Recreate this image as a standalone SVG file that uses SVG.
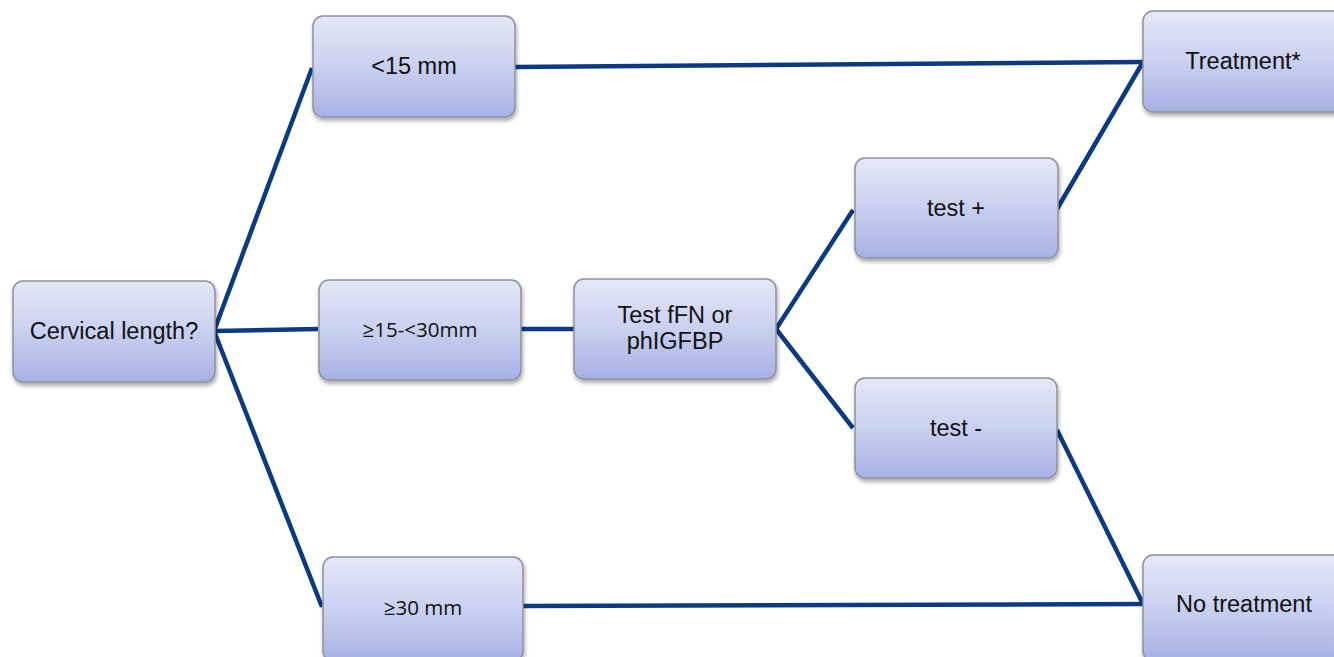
<svg xmlns="http://www.w3.org/2000/svg" width="1334" height="657" viewBox="0 0 1334 657">
  <defs>
    <linearGradient id="boxFill" x1="0" y1="0" x2="0" y2="1">
      <stop offset="0" stop-color="#e5e8f7"/>
      <stop offset="0.5" stop-color="#cad0f0"/>
      <stop offset="1" stop-color="#a7b1e5"/>
    </linearGradient>
    <filter id="shadow" x="-10%" y="-10%" width="125%" height="130%">
      <feGaussianBlur in="SourceAlpha" stdDeviation="2"/>
      <feOffset dx="1" dy="3" result="off"/>
      <feComponentTransfer><feFuncA type="linear" slope="0.35"/></feComponentTransfer>
      <feMerge><feMergeNode/><feMergeNode in="SourceGraphic"/></feMerge>
    </filter>
  </defs>
  <style>
    .box { fill: url(#boxFill); stroke: #8d929c; stroke-width: 1.5; filter: url(#shadow); }
    .lbl { font-family: "Liberation Sans", Arial, sans-serif; font-size: 23.5px; fill: #111; text-anchor: middle; dominant-baseline: central; }
    .lbl2 { font-family: "Open Sans", "Liberation Sans", sans-serif; font-size: 20.5px; fill: #111; text-anchor: middle; dominant-baseline: central; }
    .conn { stroke: #0b3a82; stroke-width: 4.5; fill: none; stroke-linecap: butt; stroke-linejoin: round; }
  </style>
  <rect width="1334" height="657" fill="#ffffff"/>

  <g id="connectors">
    <line class="conn" x1="214" y1="331" x2="312" y2="68"/>
    <line class="conn" x1="214" y1="331" x2="318" y2="329"/>
    <line class="conn" x1="214" y1="331" x2="322" y2="607"/>
    <line class="conn" x1="521" y1="329" x2="574" y2="329"/>
    <polyline class="conn" points="853,210 776,329 853,428"/>
    <line class="conn" x1="515" y1="67" x2="1143" y2="62"/>
    <line class="conn" x1="1057" y1="209" x2="1143" y2="62"/>
    <line class="conn" x1="1057" y1="430" x2="1143" y2="604"/>
    <line class="conn" x1="523" y1="606" x2="1143" y2="604"/>
  </g>

  <g id="cervical-length">
    <rect class="box" x="13" y="281" width="202" height="101" rx="10"/>
    <text class="lbl" x="114" y="331">Cervical length?</text>
  </g>
  <g id="lt15">
    <rect class="box" x="313" y="16" width="202" height="101" rx="10"/>
    <text class="lbl" x="414" y="66">&lt;15 mm</text>
  </g>
  <g id="mid-range">
    <rect class="box" x="319" y="280" width="202" height="100" rx="10"/>
    <text class="lbl2" x="420" y="329">≥15-&lt;30mm</text>
  </g>
  <g id="ge30">
    <rect class="box" x="323" y="557" width="200" height="104" rx="10"/>
    <text class="lbl2" x="423" y="607">≥30 mm</text>
  </g>
  <g id="test-ffn">
    <rect class="box" x="574" y="279" width="202" height="100" rx="10"/>
    <text class="lbl" x="675" y="315">Test fFN or</text>
    <text class="lbl" x="675" y="341">phIGFBP</text>
  </g>
  <g id="test-pos">
    <rect class="box" x="855" y="158" width="203" height="100" rx="10"/>
    <text class="lbl" x="956" y="208">test +</text>
  </g>
  <g id="test-neg">
    <rect class="box" x="855" y="378" width="202" height="100" rx="10"/>
    <text class="lbl" x="956" y="428">test -</text>
  </g>
  <g id="treatment">
    <rect class="box" x="1143" y="11" width="202" height="101" rx="10"/>
    <text class="lbl" x="1243" y="61">Treatment*</text>
  </g>
  <g id="no-treatment">
    <rect class="box" x="1143" y="555" width="202" height="106" rx="10"/>
    <text class="lbl" x="1244" y="604">No treatment</text>
  </g>
</svg>
